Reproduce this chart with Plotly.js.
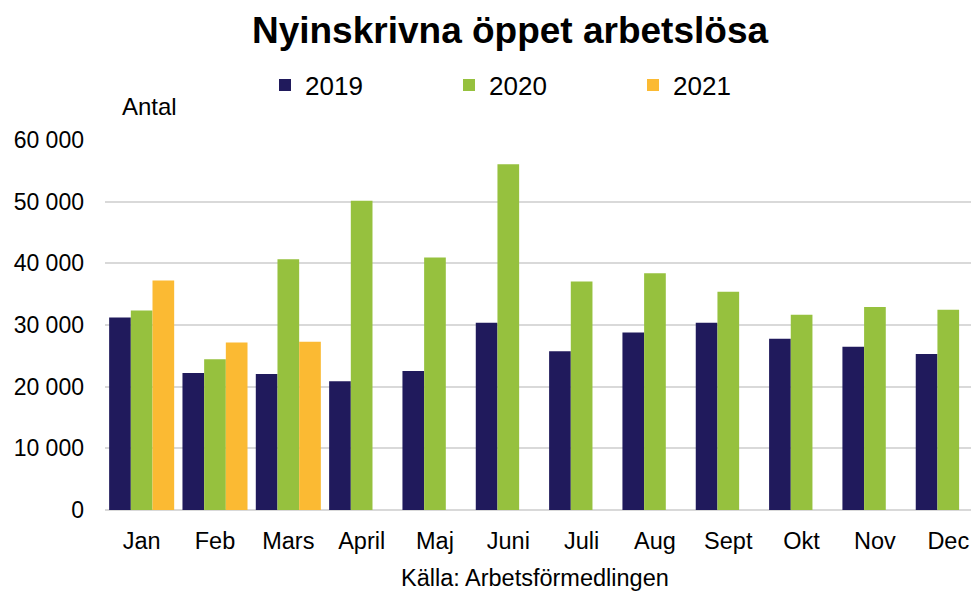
<!DOCTYPE html>
<html>
<head>
<meta charset="utf-8">
<script src="https://cdn.plot.ly/plotly-3.0.1.min.js"></script>
<style>html,body{margin:0;padding:0;background:#fff;}#chart{width:971px;height:592px;}</style>
</head>
<body>
<div id="chart"></div>
<script>
const months = ['Jan','Feb','Mars','April','Maj','Juni','Juli','Aug','Sept','Okt','Nov','Dec'];
const values2019 = [31230, 22230, 22070, 20870, 22560, 30370, 25730, 28800, 30370, 27780, 26490, 25310];
const values2020 = [32360, 24430, 40680, 50160, 40940, 56050, 37060, 38410, 35390, 31670, 32910, 32480];
const values2021 = [37220, 27180, 27300, null, null, null, null, null, null, null, null, null];
const yTickVals = [0, 10000, 20000, 30000, 40000, 50000, 60000];
const yTickText = ['0', '10 000', '20 000', '30 000', '40 000', '50 000', '60 000'];

const FONT = 'Arial, "Liberation Sans", sans-serif';

const traces = [
  {type: 'bar', name: '2019', x: months, y: values2019, marker: {color: '#201a5c', line: {width: 0}}},
  {type: 'bar', name: '2020', x: months, y: values2020, marker: {color: '#96c13e', line: {width: 0}}},
  {type: 'bar', name: '2021', x: months, y: values2021, marker: {color: '#fbba33', line: {width: 0}}}
];

const layout = {
  width: 971, height: 592,
  margin: {l: 105, r: 0, t: 140, b: 82, pad: 0},
  paper_bgcolor: '#ffffff', plot_bgcolor: '#ffffff',
  font: {family: FONT, color: '#000000'},
  barmode: 'group', bargap: 0.113, bargroupgap: 0,
  title: {
    text: '<b>Nyinskrivna öppet arbetslösa</b>',
    font: {family: FONT, size: 37, color: '#000000'},
    xref: 'container', yref: 'container',
    x: 510/971, xanchor: 'center', y: 1 - 30/592, yanchor: 'middle'
  },
  showlegend: true,
  legend: {
    orientation: 'h', xref: 'container', yref: 'container',
    x: 265/971, xanchor: 'left', y: 1 - 85/592, yanchor: 'middle',
    font: {family: FONT, size: 26, color: '#000000'},
    entrywidth: 139, entrywidthmode: 'pixels',
    bgcolor: 'rgba(0,0,0,0)', traceorder: 'normal'
  },
  xaxis: {
    type: 'category', range: [-0.5, 11.31], fixedrange: true,
    showgrid: false, showline: false, zeroline: false,
    ticks: '', ticklabelstandoff: 14,
    tickfont: {family: FONT, size: 23.5, color: '#000000'}
  },
  yaxis: {
    range: [0, 60000], fixedrange: true,
    tickvals: yTickVals, ticktext: yTickText,
    showgrid: true, gridcolor: '#d9d9d9', gridwidth: 2,
    zeroline: true, zerolinecolor: '#d9d9d9', zerolinewidth: 2,
    showline: false, ticks: '', ticklabelstandoff: 20,
    tickfont: {family: FONT, size: 23, color: '#000000'}
  },
  annotations: [
    {text: 'Antal', xref: 'paper', yref: 'paper', x: (120-105)/866, xanchor: 'left', y: (510-106)/370, yanchor: 'middle', showarrow: false, font: {family: FONT, size: 24, color: '#000000'}},
    {text: 'Källa: Arbetsförmedlingen', xref: 'paper', yref: 'paper', x: (535-105)/866, xanchor: 'center', y: (510-578)/370, yanchor: 'middle', showarrow: false, font: {family: FONT, size: 23.5, color: '#000000'}}
  ]
};

Plotly.newPlot('chart', traces, layout, {displayModeBar: false, staticPlot: true});
</script>
</body>
</html>
